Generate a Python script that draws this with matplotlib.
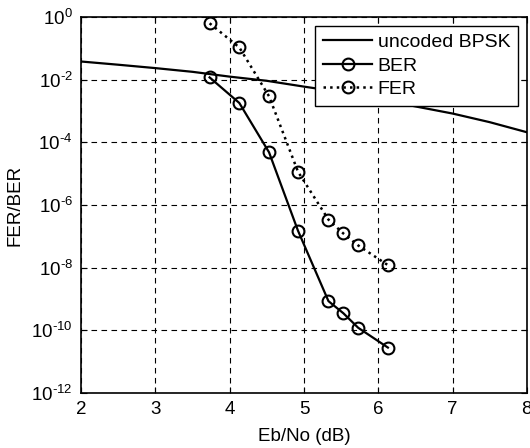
import matplotlib
matplotlib.use("Agg")
import matplotlib.pyplot as plt
from matplotlib.ticker import FixedLocator, NullLocator

plt.rcParams['font.family'] = ['Liberation Sans', 'DejaVu Sans']
plt.rcParams['mathtext.fontset'] = 'custom'
plt.rcParams['mathtext.rm'] = 'Liberation Sans'
plt.rcParams['mathtext.it'] = 'Liberation Sans'
plt.rcParams['mathtext.bf'] = 'Liberation Sans'

# Uncoded BPSK reference curve
ebno_uncoded = [2.0, 2.5, 3.0, 3.5, 4.0, 4.5, 5.0, 5.5, 6.0, 6.5, 7.0, 7.5, 8.0]
ber_uncoded = [3.8e-2, 3.0e-2, 2.34e-2, 1.78e-2, 1.25e-2, 9.2e-3, 6.0e-3,
               4.0e-3, 2.4e-3, 1.4e-3, 8.3e-4, 4.4e-4, 2.1e-4]

# Coded system simulation results
ebno_coded = [3.73, 4.13, 4.53, 4.92, 5.33, 5.53, 5.73, 6.13]
ber_coded = [1.18e-2, 1.8e-3, 4.8e-5, 1.5e-7, 8.5e-10, 3.5e-10, 1.2e-10, 2.8e-11]
fer_coded = [6.3e-1, 1.07e-1, 2.95e-3, 1.15e-5, 3.4e-7, 1.23e-7, 5.1e-8, 1.2e-8]

x_ticks = [2, 3, 4, 5, 6, 7, 8]
y_exponents = [0, -2, -4, -6, -8, -10, -12]

fig = plt.figure(figsize=(5.30, 4.48), dpi=100)
ax = fig.add_axes([0.153, 0.123, 0.841, 0.839])

ax.semilogy(ebno_uncoded, ber_uncoded, '-', color='black', lw=1.6,
            label='uncoded BPSK')
ax.semilogy(ebno_coded, ber_coded, '-o', color='black', lw=1.6,
            markersize=8.5, markerfacecolor='none', markeredgewidth=1.5,
            label='BER')
ax.semilogy(ebno_coded, fer_coded, ':o', color='black', lw=1.8,
            markersize=8.5, markerfacecolor='none', markeredgewidth=1.5,
            label='FER')

ax.set_xlim(2, 8)
ax.set_ylim(1e-12, 1)
ax.xaxis.set_major_locator(FixedLocator(x_ticks))
ax.set_xticklabels([str(t) for t in x_ticks])
ax.yaxis.set_major_locator(FixedLocator([10.0 ** e for e in y_exponents]))
ax.yaxis.set_minor_locator(NullLocator())
ax.set_yticklabels([r'$10^{\text{%d}}$' % e for e in y_exponents])

ax.tick_params(axis='both', which='both', direction='in', top=True,
               right=True, length=4, width=0.8, labelsize=13.5, pad=6)
ax.grid(True, which='major', color='black', linestyle=(0, (5, 4)), lw=0.8)
for s in ax.spines.values():
    s.set_linewidth(1.2)

ax.set_xlabel('Eb/No (dB)', fontsize=13.5, labelpad=7)
ax.set_ylabel('FER/BER', fontsize=13.5)
ax.yaxis.set_label_coords(-0.13, 0.5)

leg = ax.legend(loc='upper right', fontsize=14, frameon=True, fancybox=False,
                edgecolor='black', framealpha=1, borderaxespad=0.45,
                handlelength=2.5, handletextpad=0.3, borderpad=0.4,
                labelspacing=0.3)
leg.get_frame().set_linewidth(1.0)

fig.savefig('out.png', dpi=100)
